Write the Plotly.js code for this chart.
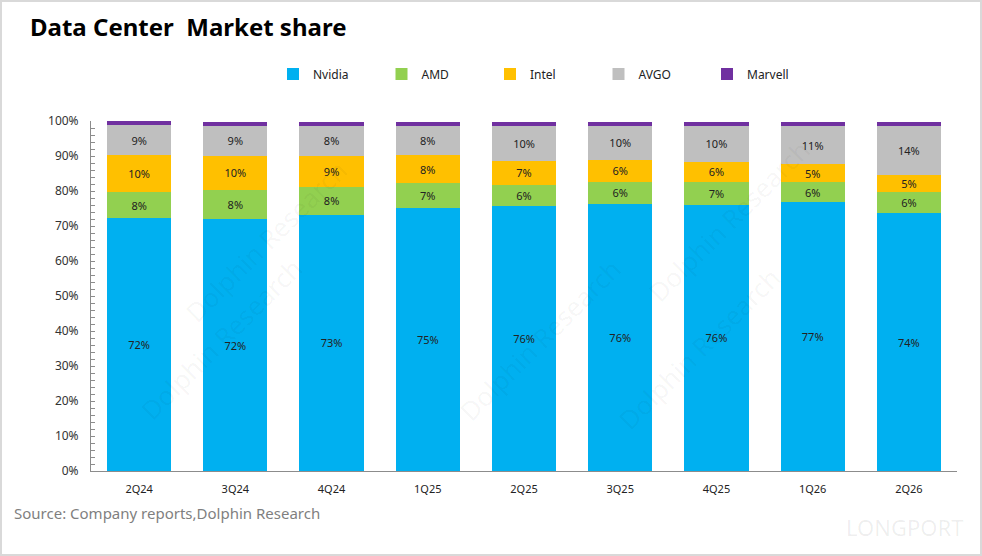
<!DOCTYPE html>
<html>
<head>
<meta charset="utf-8">
<script src="https://cdn.plot.ly/plotly-3.0.1.min.js"></script>
<style>html,body{margin:0;padding:0;background:#fff;}#chart{width:982px;height:556px;}</style>
</head>
<body>
<div id="chart"></div>
<script>
// Categories (quarters)
var quarters = ["2Q24","3Q24","4Q24","1Q25","2Q25","3Q25","4Q25","1Q26","2Q26"];
// Market share values (fraction of 1)
var nvidia  = [0.722, 0.719, 0.732, 0.752, 0.756, 0.764, 0.761, 0.768, 0.736];
var amd     = [0.076, 0.084, 0.080, 0.070, 0.060, 0.063, 0.066, 0.057, 0.060];
var intel   = [0.104, 0.097, 0.089, 0.080, 0.071, 0.063, 0.057, 0.051, 0.051];
var avgo    = [0.087, 0.087, 0.084, 0.084, 0.100, 0.097, 0.103, 0.110, 0.140];
var marvell = [0.011, 0.011, 0.013, 0.012, 0.011, 0.011, 0.011, 0.011, 0.011];
// Y tick labels
var yTickVals = [0,0.1,0.2,0.3,0.4,0.5,0.6,0.7,0.8,0.9,1.0];
var yTickText = ["0%","10%","20%","30%","40%","50%","60%","70%","80%","90%","100%"];

var seriesNames = ["Nvidia","AMD","Intel","AVGO","Marvell"];
var seriesVals = [nvidia, amd, intel, avgo, marvell];
var seriesColors = ["#00B0F0","#92D050","#FFC000","#BFBFBF","#7030A0"];

var FONT = "Noto Sans, Liberation Sans, sans-serif";

var traces = seriesNames.map(function(name, i){
  var isSmall = (name === "Marvell");
  return {
    type: "bar",
    name: name,
    x: quarters,
    y: seriesVals[i],
    marker: {color: seriesColors[i], line: {width: 0}},
    texttemplate: isSmall ? "" : "%{y:.0%}",
    textposition: isSmall ? "none" : "inside",
    insidetextanchor: "middle",
    textangle: 0,
    constraintext: "none",
    textfont: {family: FONT, size: 11, color: "#222222"},
    hoverinfo: "skip"
  };
});

// plot area: x 91..957, y 121..471
var L = 91, R = 982-957, T = 121, B = 556-471;
var pw = 982 - L - R, ph = 556 - T - B;
function px(x){ return (x - L)/pw; }
function py(y){ return (556 - B - y)/ph; }

var watermarks = [
  {x:175, y:150, t:"Dolphin Research"},
  {x:540, y:340, t:"Dolphin Research"},
  {x:790, y:440, t:"Dolphin Research"},
  {x:820, y:130, t:"Dolphin Research"},
  {x:130, y:430, t:"Dolphin Research"}
];
var annotations = watermarks.map(function(w){
  return {xref:"paper", yref:"paper", x:px(w.x), y:py(w.y), text:w.t, showarrow:false,
    textangle:-45, font:{family:FONT, size:26, color:"rgba(0,0,0,0.045)"}};
});
annotations.push({xref:"paper", yref:"paper", x:px(12), y:py(513), xanchor:"left", yanchor:"middle",
  text:"Source: Company reports,Dolphin Research", showarrow:false,
  font:{family:FONT, size:15, color:"#7f7f7f"}});
annotations.push({xref:"paper", yref:"paper", x:px(965), y:py(527), xanchor:"right", yanchor:"middle",
  text:"LONGPORT", showarrow:false,
  font:{family:FONT, size:22, color:"rgba(0,0,0,0.07)"}});

var layout = {
  width: 982, height: 556,
  margin: {l: L, r: R, t: T, b: B, pad: 0},
  paper_bgcolor: "#ffffff",
  plot_bgcolor: "#ffffff",
  barmode: "stack",
  bargap: 0.333,
  font: {family: FONT, size: 12, color: "#333333"},
  title: {text: "Data Center\u00a0\u00a0Market share", x: 30/982, xanchor: "left", xref: "container",
          y: 1 - 28/556, yanchor: "middle", yref: "container",
          font: {family: FONT, size: 24, color: "#000000", weight: "bold"}},
  showlegend: true,
  legend: {orientation: "h", x: px(273), xanchor: "left", y: py(74), yanchor: "middle",
           entrywidth: 63.5, entrywidthmode: "pixels", traceorder: "normal",
           font: {family: FONT, size: 12, color: "#222222"}, itemclick: false},
  xaxis: {type: "category", showgrid: false, zeroline: false, showline: true, linecolor: "#8c8c8c",
          linewidth: 1, ticks: "", tickfont: {family: FONT, size: 11, color: "#222222"},
          ticklabelstandoff: 8, fixedrange: true},
  yaxis: {range: [0, 1], tickvals: yTickVals, ticktext: yTickText, showgrid: false, zeroline: false,
          showline: true, linecolor: "#8c8c8c", linewidth: 1, ticks: "inside", ticklen: 4,
          tickcolor: "#8c8c8c", tickfont: {family: FONT, size: 12, color: "#333333"},
          ticklabelstandoff: 9,
          minor: {dtick: 0.02, tick0: 0, ticks: "inside", ticklen: 4, tickcolor: "#8c8c8c", showgrid: false},
          fixedrange: true},
  annotations: annotations,
  shapes: [{type: "rect", xref: "paper", yref: "paper", x0: px(1), x1: px(981), y0: py(555), y1: py(1),
            line: {color: "#d9d9d9", width: 2}, fillcolor: "rgba(0,0,0,0)", layer: "below"}]
};

Plotly.newPlot("chart", traces, layout, {displayModeBar: false, staticPlot: true});
</script>
</body>
</html>
